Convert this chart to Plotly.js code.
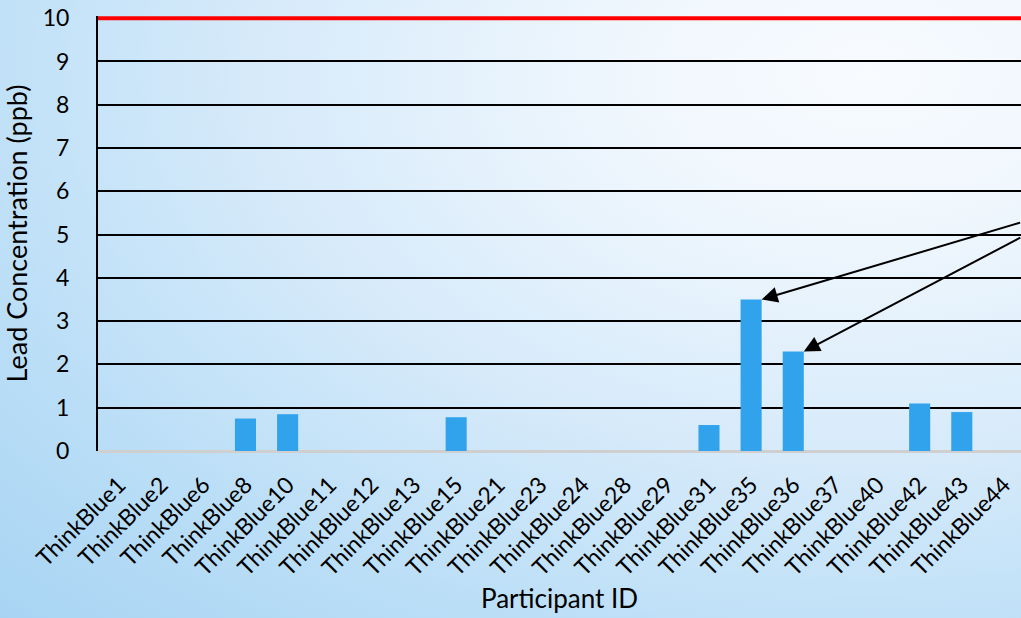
<!DOCTYPE html>
<html>
<head>
<meta charset="utf-8">
<script src="https://cdn.plot.ly/plotly-3.0.1.min.js"></script>
<style>
html,body{margin:0;padding:0;}
body{width:1021px;height:618px;overflow:hidden;
background:radial-gradient(ellipse farthest-corner at 85% 12%,#f8fbff 0%,#eef6fd 22%,#d6eafa 50%,#bcdff7 75%,#a8d4f3 100%);}
#chart{width:1021px;height:618px;}
</style>
</head>
<body>
<div id="chart"></div>
<script>
const participants = ["ThinkBlue1","ThinkBlue2","ThinkBlue6","ThinkBlue8","ThinkBlue10","ThinkBlue11","ThinkBlue12","ThinkBlue13","ThinkBlue15","ThinkBlue21","ThinkBlue23","ThinkBlue24","ThinkBlue28","ThinkBlue29","ThinkBlue31","ThinkBlue35","ThinkBlue36","ThinkBlue37","ThinkBlue40","ThinkBlue42","ThinkBlue43","ThinkBlue44"];
const leadPpb = [0,0,0,0.75,0.85,0,0,0,0.78,0,0,0,0,0,0.6,3.5,2.3,0,0,1.1,0.9,0];
const actionLevel = 10;
const highlighted = ["ThinkBlue35","ThinkBlue36"];
const yTicks = [0,1,2,3,4,5,6,7,8,9,10];

const FONT = "Lato, 'Noto Sans', sans-serif";
const barWidth = 0.5;

const arrowOffsets = [[259,-77],[217,-114]];
const annotations = highlighted.map((id,k)=>{
  const i = participants.indexOf(id);
  return {x: i + barWidth/2, y: leadPpb[i], xref:'x', yref:'y',
    ax: arrowOffsets[k][0], ay: arrowOffsets[k][1], axref:'pixel', ayref:'pixel',
    showarrow:true, arrowhead:2, arrowsize:1.6, arrowwidth:2, arrowcolor:'#000',
    text:'', font:{size:1}, borderpad:0, standoff:0};
});

const data = [{
  type:'bar', x: participants, y: leadPpb, width: barWidth,
  marker:{color:'#31a2ec', line:{width:0}},
  hoverinfo:'x+y'
}];

const yTop = actionLevel + 0.05;

const layout = {
  width:1021, height:618,
  margin:{l:97.5, r:0, t:15.8, b:167, pad:0},
  paper_bgcolor:'rgba(0,0,0,0)', plot_bgcolor:'rgba(0,0,0,0)',
  font:{family:FONT, color:'#000'},
  showlegend:false,
  xaxis:{
    type:'category', range:[-0.5, 21.405],
    tickangle:-45, tickfont:{size:23, family:FONT, color:'#000'},
    showgrid:false, showline:false, ticks:'', zeroline:false,
    ticklabelstandoff:15,
    title:{text:'Participant ID', font:{size:26, family:FONT, color:'#000'}, standoff:10},
    automargin:false
  },
  yaxis:{
    range:[0,yTop], tickvals:yTicks, ticktext:yTicks.map(String),
    tickfont:{size:23, family:FONT, color:'#000'},
    showgrid:true, gridcolor:'#000', gridwidth:2,
    showline:true, linecolor:'#000', linewidth:2,
    zeroline:true, zerolinecolor:'#cfcfcf', zerolinewidth:3,
    ticks:'', ticklabelstandoff:22,
    title:{text:'Lead Concentration (ppb)', font:{size:27, family:FONT, color:'#000'}, standoff:12},
    automargin:false
  },
  shapes:[{type:'line', xref:'paper', yref:'y', x0:0, x1:1, y0:actionLevel, y1:actionLevel,
    line:{color:'#ff0000', width:4}}],
  annotations: annotations
};

Plotly.newPlot('chart', data, layout, {displayModeBar:false, staticPlot:true});
</script>
</body>
</html>
